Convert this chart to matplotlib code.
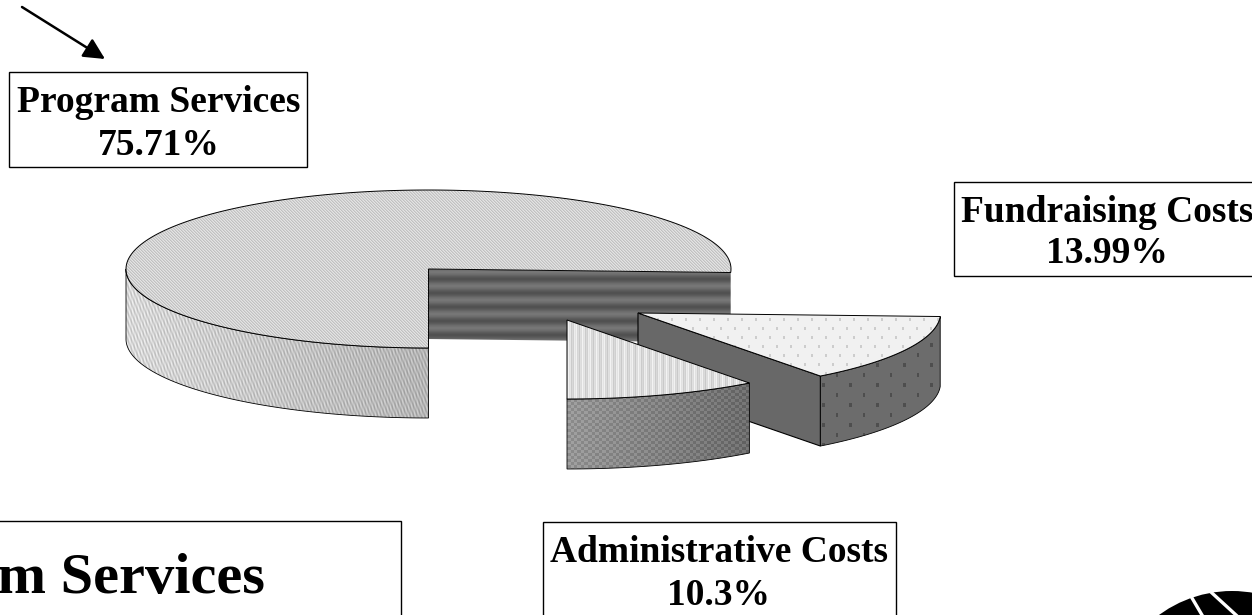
import numpy as np
import matplotlib
matplotlib.use("Agg")
import matplotlib.pyplot as plt
from matplotlib.patches import Polygon, Rectangle, Circle, FancyArrowPatch

plt.rcParams['font.family'] = ['Liberation Serif', 'DejaVu Serif']

categories = ['Fundraising Costs', 'Administrative Costs', 'Program Services']
shares = [13.99, 10.3, 75.71]
share_labels = ['13.99%', '10.3%', '75.71%']

W, H = 1252, 615
RX, RY, DEPTH = 302.5, 79, 70
CENTER = (428.5, 269)
# how far each slice is pulled out of the pie, in pixels
OFFSETS = [(209.5, 44), (138.5, 51), (0, 0)]
END_ANGLE = -90  # the two small slices run clockwise down to here

fig = plt.figure(figsize=(W / 100, H / 100), dpi=100)
ax = fig.add_axes([0, 0, 1, 1])
ax.set_xlim(0, W)
ax.set_ylim(H, 0)
ax.axis('off')

X, Y = np.meshgrid(np.arange(W) + 0.5, np.arange(H) + 0.5)


def arc(cx, cy, a0, a1, n=200):
    t = np.radians(np.linspace(a0, a1, n))
    return np.column_stack([cx + RX * np.cos(t), cy - RY * np.sin(t)])


def fill(points, img, zorder, lw=0.6):
    # grey texture clipped to a polygon, with a thin outline on top
    clip = Polygon(points, closed=True, transform=ax.transData, fc='none', ec='none')
    ax.add_patch(clip)
    im = ax.imshow(img, cmap='gray', vmin=0, vmax=255, extent=(0, W, H, 0),
                   interpolation='nearest', zorder=zorder, aspect='auto')
    im.set_clip_path(clip)
    if lw > 0:
        ax.add_patch(Polygon(points, closed=True, fc='none', ec='black', lw=lw, zorder=zorder + 0.1))


def dots(px, py, rx, ry):
    # staggered dots, True inside a dot
    row = np.floor(Y / py)
    xx = (X + row * px / 2) % px - px / 2
    yy = Y % py - py / 2
    return (xx / rx) ** 2 + (yy / ry) ** 2 < 1


main_top = 210 + 20 * np.sin(2 * np.pi * (X - Y) / 3.0)
main_wall = 216 - 36 * (X - 126) / 303 + 18 * np.sin(2 * np.pi * (X * 2.5 - Y) / 9.0) + 8 * np.sin(2 * np.pi * X / 3.0)
main_cut = 100 + 18 * np.cos(2 * np.pi * (Y - 272) / 14.0)
fund_top = np.where(dots(14, 9, 1.2, 1.2), 205, 241)
fund_wall = np.where(dots(27, 10, 1.4, 2.5), 78, 108)
fund_cut = np.full_like(X, 104)
admin_top = 222 + 14 * np.sin(2 * np.pi * X / 7.0) + 8 * np.sin(2 * np.pi * X / 2.0)
admin_wall = 150 - 42 * (X - 567) / 182 + 11 * np.sign(np.sin(2 * np.pi * X / 7.0)) * np.sign(np.sin(2 * np.pi * Y / 6.0))

tops = [fund_top, admin_top, main_top]
walls = [fund_wall, admin_wall, main_wall]

# angles of each slice, worked out backwards from where the administrative one ends
sweeps = [s / sum(shares) * 360 for s in shares]
a_start = END_ANGLE + sweeps[0] + sweeps[1]
ranges = [(a_start, a_start - sweeps[0]),
          (a_start - sweeps[0], END_ANGLE),
          (END_ANGLE, END_ANGLE - sweeps[2])]

# painter order: main pie, fundraising, then administrative in front
for i, z in [(2, 2), (0, 4), (1, 6)]:
    cx = CENTER[0] + OFFSETS[i][0]
    cy = CENTER[1] + OFFSETS[i][1]
    a0, a1 = ranges[i]
    if i == 2:
        # inner wall under the open sector, seen along its first edge
        rim = arc(cx, cy, a_start, a_start, 1)[0]
        fill([(cx, cy), tuple(rim), (rim[0], rim[1] + DEPTH), (cx, cy + DEPTH)], main_cut, z, lw=0)
        front = arc(cx, cy, 180, 270)
    else:
        front = arc(cx, cy, a0, a1)
    if i == 0:
        rim = arc(cx, cy, a1, a1, 1)[0]
        fill([(cx, cy), tuple(rim), (rim[0], rim[1] + DEPTH), (cx, cy + DEPTH)], fund_cut, z, lw=0.8)
    fill(np.vstack([front, (front + [0, DEPTH])[::-1]]), walls[i], z + 0.3)
    fill(np.vstack([[(cx, cy)], arc(cx, cy, a0, a1)]), tops[i], z + 0.6, lw=0.7)

# label boxes, some run off the page
boxes = [(9, 72, 298, 95), (954, 182, 340, 94), (543, 522, 353, 110), (-60, 521, 461, 110)]
for x0, y0, w, h in boxes:
    ax.add_patch(Rectangle((x0, y0), w, h, fc='white', ec='black', lw=1.0, zorder=8))

ax.text(159, 112, categories[2], fontsize=27, fontweight='bold', ha='center', va='baseline', zorder=9)
ax.text(159, 155, share_labels[2], fontsize=27, fontweight='bold', ha='center', va='baseline', zorder=9)
ax.text(1107, 222, categories[0], fontsize=27, fontweight='bold', ha='center', va='baseline', zorder=9)
ax.text(1107, 263, share_labels[0], fontsize=27, fontweight='bold', ha='center', va='baseline', zorder=9)
ax.text(719, 562, categories[1], fontsize=27, fontweight='bold', ha='center', va='baseline', zorder=9)
ax.text(719, 605, share_labels[1], fontsize=27, fontweight='bold', ha='center', va='baseline', zorder=9)
ax.text(265, 593, categories[2], fontsize=42, fontweight='bold', ha='right', va='baseline', zorder=9)

# arrow pointing down at the first label
ax.add_patch(FancyArrowPatch((22, 7), (105, 59), arrowstyle='-|>', mutation_scale=32,
                             lw=1.8, color='black', shrinkA=0, shrinkB=0, zorder=9))

# logo cut off by the corner of the page
ax.add_patch(Circle((1232, 714), 123, fc='black', ec='none', zorder=9))
ax.plot([1192, 1202], [598, 615], color='white', lw=2.4, zorder=10)
ax.plot([1212, 1236], [593, 615], color='white', lw=2.4, zorder=10)

fig.savefig('out.png', dpi=100)
